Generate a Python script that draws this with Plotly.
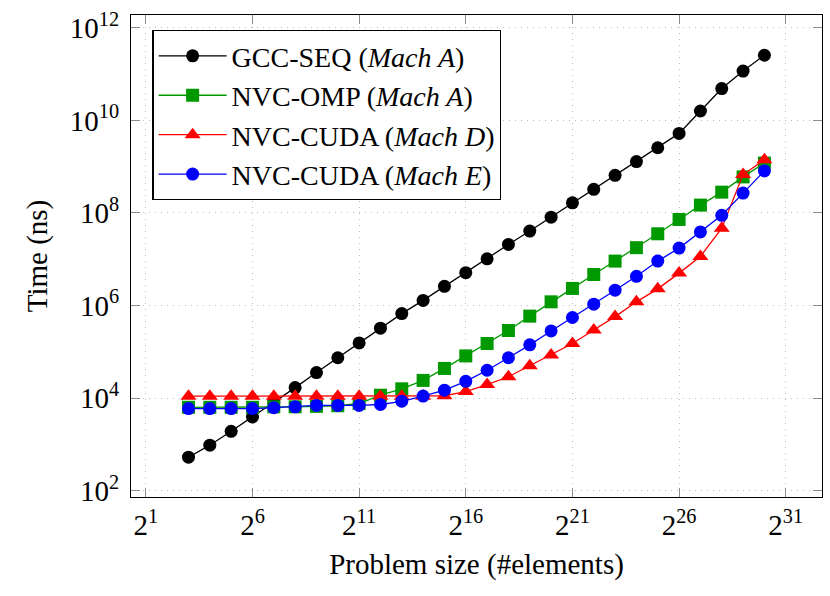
import plotly.graph_objects as go
import math

# Problem size exponents (x = 2^n)
exponents = list(range(3, 31))

# Time (ns) per series
gcc_seq_mach_a = [525, 955, 1905, 3890, 8130, 16800, 35500, 74100, 1.55e5, 3.24e5,
                  6.68e5, 1.29e6, 2.60e6, 5.13e6, 1.02e7, 2.09e7, 4.07e7, 8.13e7,
                  1.66e8, 3.24e8, 6.53e8, 1.29e9, 2.57e9, 5.25e9, 1.60e10, 4.90e10,
                  1.17e11, 2.57e11]
nvc_omp_mach_a = [6300, 6300, 6300, 6300, 6450, 6450, 6600, 6800, 7600, 11500,
                  15800, 24000, 43600, 81300, 1.51e5, 2.88e5, 5.89e5, 1.20e6,
                  2.34e6, 4.68e6, 9.12e6, 1.78e7, 3.55e7, 7.24e7, 1.48e8, 2.82e8,
                  6.03e8, 1.20e9]
nvc_cuda_mach_d = [10960, 10960, 10960, 10960, 10960, 10960, 10960, 10960, 10960, 10960,
                   10960, 10960, 11200, 13800, 19500, 28800, 50100, 85100, 1.51e5,
                   2.95e5, 5.75e5, 1.20e6, 2.29e6, 5.01e6, 1.15e7, 4.68e7, 6.76e8,
                   1.41e9]
nvc_cuda_mach_e = [5900, 5900, 5900, 5900, 6170, 6460, 6900, 6900, 6900, 7240,
                   8500, 11000, 14800, 22900, 39800, 74100, 1.41e5, 2.82e5, 5.50e5,
                   1.07e6, 2.14e6, 4.27e6, 9.12e6, 1.74e7, 3.89e7, 8.91e7, 2.69e8,
                   8.13e8]

series_names = ["GCC-SEQ (<i>Mach A</i>)", "NVC-OMP (<i>Mach A</i>)",
                "NVC-CUDA (<i>Mach D</i>)", "NVC-CUDA (<i>Mach E</i>)"]
series_values = [gcc_seq_mach_a, nvc_omp_mach_a, nvc_cuda_mach_d, nvc_cuda_mach_e]
series_colors = ["#000000", "#009900", "#ff0000", "#0000ff"]
series_symbols = ["circle", "square", "triangle-up", "circle"]
series_sizes = [13, 13, 14, 13]

x_tick_exponents = [1, 6, 11, 16, 21, 26, 31]
y_tick_exponents = [2, 4, 6, 8, 10, 12]

xs = [2 ** n for n in exponents]

FONT = "Liberation Serif"

fig = go.Figure()
for name, vals, col, sym, sz in zip(series_names, series_values, series_colors,
                                    series_symbols, series_sizes):
    fig.add_trace(go.Scatter(
        x=xs, y=vals, name=name, mode="lines+markers",
        line=dict(color=col, width=1.3),
        marker=dict(color=col, symbol=sym, size=sz, line=dict(width=0)),
    ))

axis_common = dict(
    showline=True, linecolor="black", linewidth=1.2, mirror="allticks",
    ticks="inside", ticklen=9, tickcolor="#8c8c8c", tickwidth=1,
    showgrid=True, gridcolor="#bdbdbd", griddash="1px,5px", gridwidth=1,
    zeroline=False, automargin=False,
    tickfont=dict(family=FONT, size=29, color="black"),
)

fig.update_xaxes(
    type="log",
    range=[0.305 * math.log10(2), 32.70 * math.log10(2)],
    tickvals=[2 ** e for e in x_tick_exponents],
    ticktext=[f"2<sup>{e}</sup>" for e in x_tick_exponents],
    title=dict(text="Problem size (#elements)", font=dict(family=FONT, size=29, color="black"),
               standoff=13),
    ticklabelstandoff=2,
    **axis_common,
)
fig.update_yaxes(
    type="log",
    range=[1.86, 12.28],
    tickvals=[10 ** e for e in y_tick_exponents],
    ticktext=[f"10<sup>{e}</sup>" for e in y_tick_exponents],
    title=dict(text="Time (ns)", font=dict(family=FONT, size=29, color="black"),
               standoff=13),
    ticklabelstandoff=5,
    **axis_common,
)

fig.update_layout(
    width=830, height=596,
    margin=dict(l=131, r=8, t=15, b=99),
    paper_bgcolor="white", plot_bgcolor="white",
    font=dict(family=FONT, size=29, color="black"),
    showlegend=True,
    legend=dict(
        x=0.031, y=0.969, xanchor="left", yanchor="top",
        bgcolor="white", bordercolor="black", borderwidth=1.2,
        font=dict(family=FONT, size=28, color="black"),
        itemwidth=68, tracegroupgap=0,
    ),
)

fig.write_html("out.html", config={"displayModeBar": False},
               post_script="document.body.style.margin='0';")
